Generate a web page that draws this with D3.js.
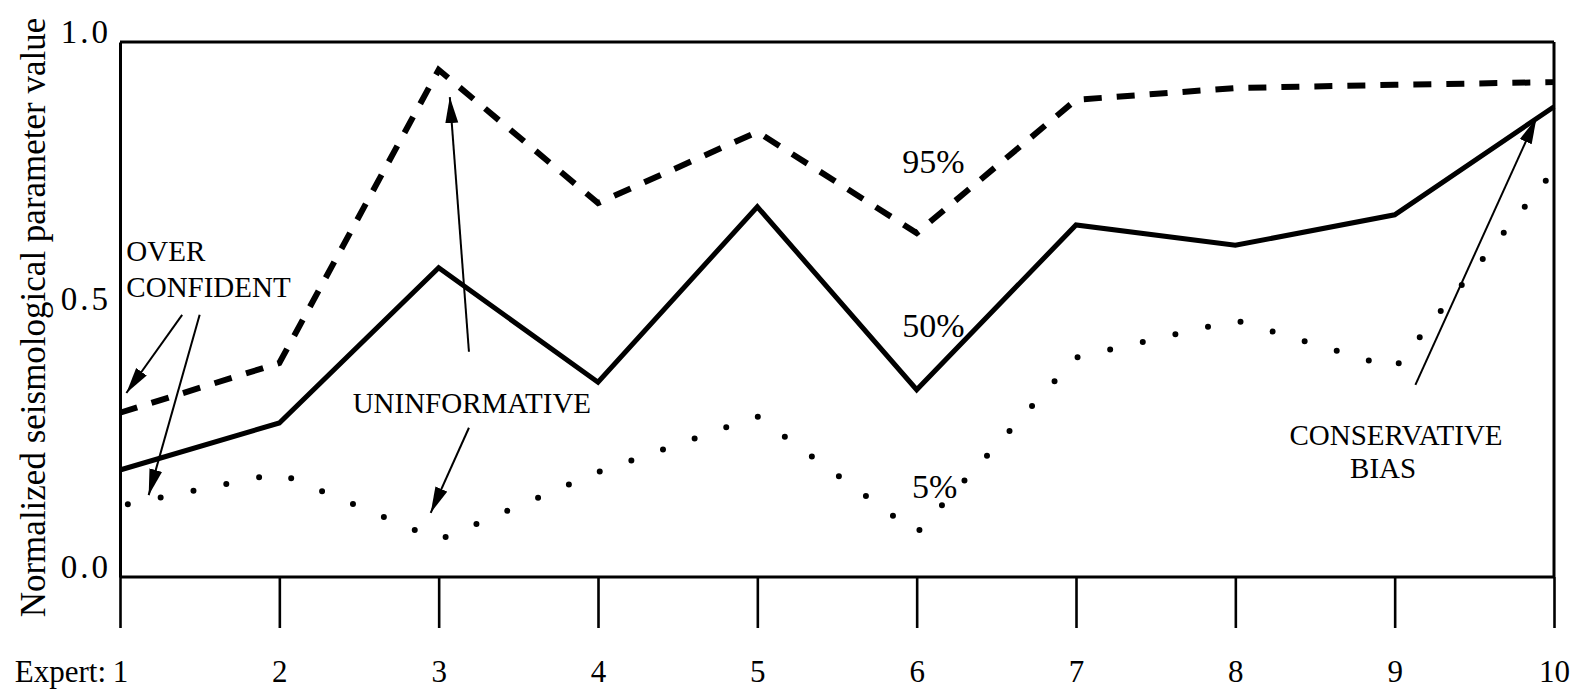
<!DOCTYPE html>
<html>
<head>
<meta charset="utf-8">
<script src="https://cdn.jsdelivr.net/npm/d3@7"></script>
<style>
  html, body { margin: 0; padding: 0; background: #fff; }
  svg { display: block; font-family: "Liberation Serif", "Times New Roman", serif; }
</style>
</head>
<body>
<svg id="chart" width="1579" height="689"></svg>
<script>
// ---- data ----
const experts = [1, 2, 3, 4, 5, 6, 7, 8, 9, 10];
const p95 = [0.307, 0.40, 0.948, 0.699, 0.832, 0.643, 0.892, 0.914, 0.92, 0.925];
const p50 = [0.20, 0.288, 0.578, 0.364, 0.692, 0.35, 0.658, 0.62, 0.677, 0.879];
const p05 = [0.133, 0.194, 0.069, 0.196, 0.30, 0.082, 0.41, 0.48, 0.39, 0.76];
const yTicks = [0.0, 0.5, 1.0];
const yTitle = "Normalized seismological parameter value";
const xPrefix = "Expert:";

// annotations (data coordinates: expert index, value)
const labels = [
  { text: "OVER", x: 1.04, y: 0.591, size: 29 },
  { text: "CONFIDENT", x: 1.04, y: 0.523, size: 29 },
  { text: "UNINFORMATIVE", x: 2.46, y: 0.307, size: 29 },
  { text: "CONSERVATIVE", x: 8.34, y: 0.247, size: 29 },
  { text: "BIAS", x: 8.72, y: 0.185, size: 29 },
  { text: "95%", x: 5.91, y: 0.755, size: 34 },
  { text: "50%", x: 5.91, y: 0.449, size: 34 },
  { text: "5%", x: 5.97, y: 0.148, size: 34 }
];
const arrows = [
  { x1: 1.39, y1: 0.490, x2: 1.04, y2: 0.344 },
  { x1: 1.50, y1: 0.490, x2: 1.18, y2: 0.153 },
  { x1: 3.19, y1: 0.421, x2: 3.07, y2: 0.897 },
  { x1: 3.19, y1: 0.279, x2: 2.95, y2: 0.120 },
  { x1: 9.13, y1: 0.359, x2: 9.89, y2: 0.858 }
];

// ---- layout ----
const mLeft = 120, mRight = 1554, mTop = 42, mBottom = 577, tickLen = 51;
const svg = d3.select("#chart");
const x = d3.scaleLinear().domain([1, 10]).range([mLeft, mRight]);
const y = d3.scaleLinear().domain([0, 1]).range([mBottom, mTop]);

// frame: top and right border
svg.append("line").attr("x1", mLeft).attr("x2", mRight).attr("y1", mTop).attr("y2", mTop)
  .attr("stroke", "#000").attr("stroke-width", 3);
svg.append("line").attr("x1", mRight).attr("x2", mRight).attr("y1", mTop).attr("y2", mBottom)
  .attr("stroke", "#000").attr("stroke-width", 3);

// x axis
const xAxis = svg.append("g").attr("transform", `translate(0,${mBottom})`)
  .call(d3.axisBottom(x).tickValues(experts).tickSize(tickLen).tickPadding(32).tickFormat(d3.format("d")));
xAxis.select(".domain").attr("d", `M${mLeft},0H${mRight}`).attr("stroke-width", 3);
xAxis.selectAll(".tick line").attr("stroke-width", 2.6);
xAxis.selectAll(".tick text").attr("font-size", 31).attr("fill", "#000")
  .attr("font-family", "Liberation Serif, serif");
xAxis.append("text").attr("x", x(1) - 14).attr("y", tickLen + 32).attr("dy", "0.71em")
  .attr("text-anchor", "end").attr("fill", "#000").attr("font-size", 31)
  .attr("font-family", "Liberation Serif, serif").text(xPrefix);

// y axis
const yAxis = svg.append("g").attr("transform", `translate(${mLeft},0)`)
  .call(d3.axisLeft(y).tickValues(yTicks).tickSize(0).tickPadding(9).tickFormat(d3.format(".1f")));
yAxis.select(".domain").attr("stroke-width", 3);
yAxis.selectAll(".tick text").attr("font-size", 33).attr("fill", "#000").attr("dy", "0em")
  .attr("letter-spacing", 3)
  .attr("font-family", "Liberation Serif, serif");

// y title
svg.append("text")
  .attr("transform", `translate(45,${(mTop + mBottom) / 2 + 8}) rotate(-90)`)
  .attr("text-anchor", "middle").attr("font-size", 35).attr("fill", "#000")
  .text(yTitle);

// series
const line = vals => d3.line().x((d, i) => x(experts[i])).y(d => y(d))(vals);
svg.append("path").attr("d", line(p95)).attr("fill", "none").attr("stroke", "#000")
  .attr("stroke-width", 6).attr("stroke-dasharray", "18 15");
svg.append("path").attr("d", line(p50)).attr("fill", "none").attr("stroke", "#000")
  .attr("stroke-width", 5).attr("stroke-linejoin", "miter");
svg.append("path").attr("d", line(p05)).attr("fill", "none").attr("stroke", "#000")
  .attr("stroke-width", 6).attr("stroke-linecap", "round").attr("stroke-dasharray", "0 33.5")
  .attr("stroke-dashoffset", -8);

// arrow marker
svg.append("defs").append("marker")
  .attr("id", "arrow").attr("viewBox", "-26 -7 26 14").attr("refX", 0).attr("refY", 0)
  .attr("markerUnits", "userSpaceOnUse").attr("markerWidth", 26).attr("markerHeight", 14)
  .attr("orient", "auto")
  .append("path").attr("d", "M0,0L-26,-6.5L-26,6.5Z").attr("fill", "#000");

svg.append("g").selectAll("line").data(arrows).join("line")
  .attr("x1", d => x(d.x1)).attr("y1", d => y(d.y1))
  .attr("x2", d => x(d.x2)).attr("y2", d => y(d.y2))
  .attr("stroke", "#000").attr("stroke-width", 2).attr("marker-end", "url(#arrow)");

// labels
svg.append("g").selectAll("text").data(labels).join("text")
  .attr("x", d => x(d.x)).attr("y", d => y(d.y))
  .attr("font-size", d => d.size).attr("fill", "#000")
  .text(d => d.text);
</script>
</body>
</html>
